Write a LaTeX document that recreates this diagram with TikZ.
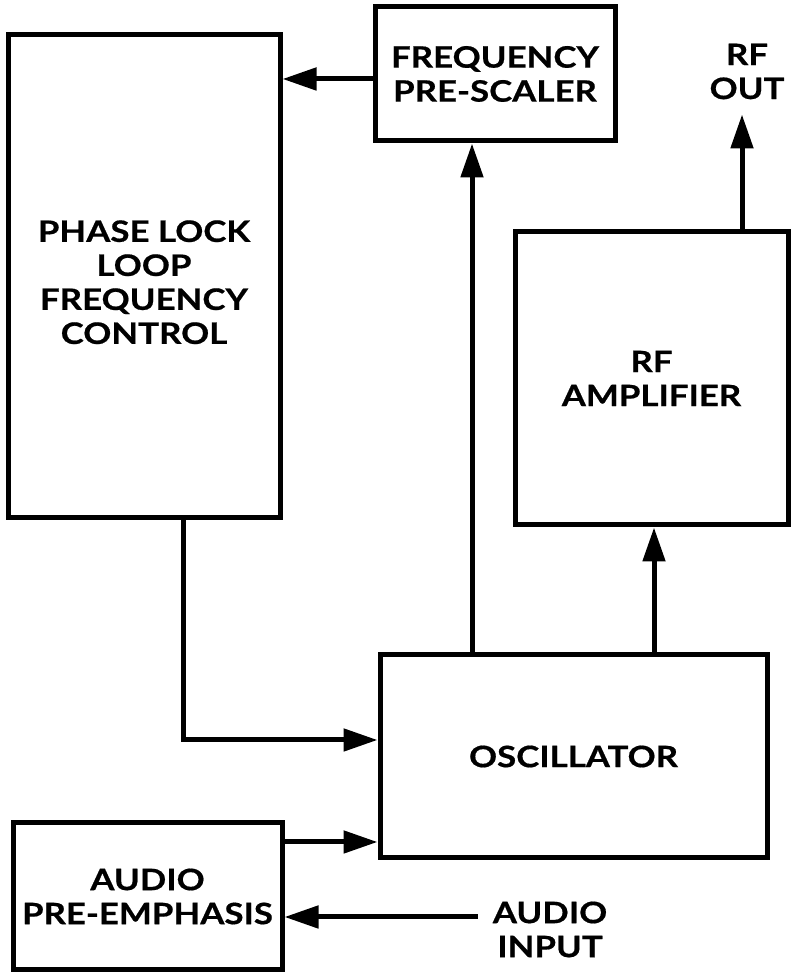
\documentclass[tikz,border=0pt]{standalone}
\usepackage{fontspec}
\setmainfont{Lato}[FakeStretch=1.18,FakeBold=0.6]
\usepackage{tikz}
\usetikzlibrary{arrows.meta,positioning}

\begin{document}
\begin{tikzpicture}[x=1pt,y=1pt,>={Triangle[length=34pt,width=22pt]},
    blk/.style={draw,line width=5pt,align=center,inner sep=0pt,
      font=\bfseries\fontsize{29.5}{34}\selectfont},
    lbl/.style={align=center,inner sep=15pt,
      font=\bfseries\fontsize{29.5}{34}\selectfont},
    wire/.style={line width=5pt}]
  \useasboundingbox (0,0) rectangle (792,974);
  \node[blk,minimum width=272pt,minimum height=483pt] (pll) at (144,697.5)
      {\rule{0pt}{33pt}PHASE LOCK\\LOOP\\FREQUENCY\\CONTROL};
  \node[blk,minimum width=240pt,minimum height=134pt] (pre) at (495,900)
      {FREQUENCY\\PRE-SCALER};
  \node[blk,minimum width=273pt,minimum height=293pt] (rfamp) at (651.5,595.5)
      {RF\\AMPLIFIER};
  \node[blk,minimum width=387pt,minimum height=203pt] (osc) at (573.5,217.5)
      {OSCILLATOR};
  \node[blk,minimum width=269pt,minimum height=147pt] (audio) at (147.5,77.5)
      {AUDIO\\PRE-EMPHASIS};
  \node[lbl] (rfout) at (747,902.5) {RF\\OUT};
  \node[lbl] (ain) at (550,44.5) {AUDIO\\INPUT};
  \draw[wire,->] ([yshift=-5pt]pre.west) -- ([yshift=-5pt]pre.west -| pll.east);
  \draw[wire,->] ([xshift=-101.5pt]osc.north) -- ([xshift=-101.5pt]osc.north |- pre.south);
  \draw[wire,->] ([xshift=80.5pt]osc.north) -- ([xshift=80.5pt]osc.north |- rfamp.south);
  \draw[wire,->] ([xshift=90.5pt]rfamp.north) -- ([xshift=90.5pt]rfamp.north |- rfout.south);
  \draw[wire,->] ([xshift=39pt]pll.south) |- ([yshift=16.5pt]osc.west);
  \draw[wire,->] ([yshift=54.5pt]audio.east) -- ([yshift=54.5pt]audio.east -| osc.west);
  \draw[wire,->] ([yshift=12.5pt]ain.west) -- ([yshift=12.5pt]ain.west -| audio.east);
\end{tikzpicture}
\end{document}
